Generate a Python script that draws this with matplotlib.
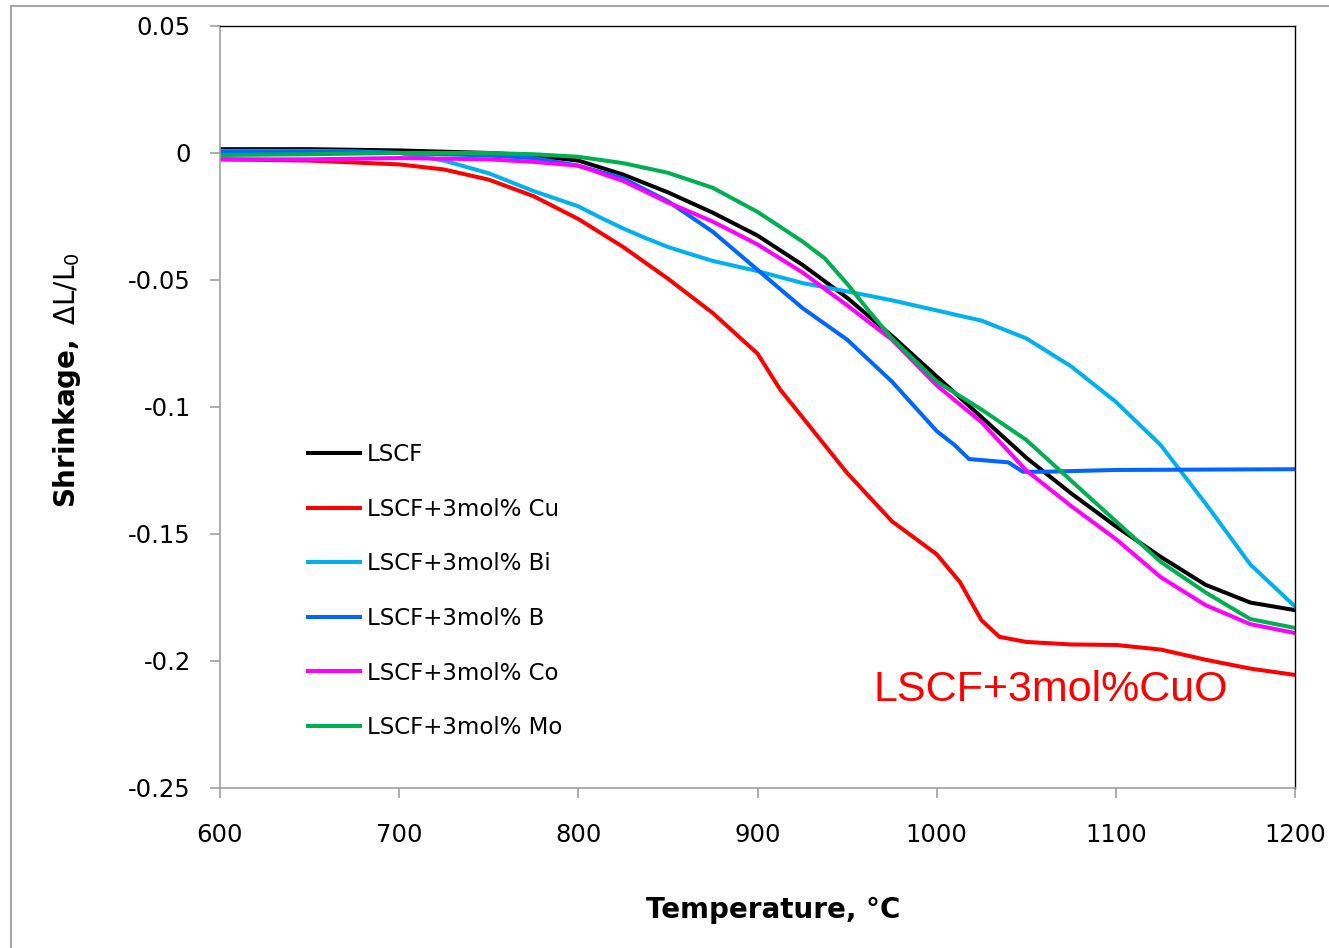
import matplotlib
matplotlib.use('Agg')
import matplotlib.pyplot as plt
from matplotlib.patches import Rectangle
from matplotlib.ticker import FuncFormatter

plt.rcParams['axes.unicode_minus'] = False

# shrinkage curves (temperature in C, dL/L0)
t_lscf = [600, 650, 700, 725, 750, 775, 800, 825, 850, 875, 900, 925, 950, 975,
          1000, 1025, 1050, 1075, 1100, 1125, 1150, 1175, 1200]
lscf = [0.0015, 0.0015, 0.001, 0.0005, 0.0, -0.001, -0.003, -0.0085, -0.0155, -0.0235,
        -0.0325, -0.044, -0.057, -0.072, -0.088, -0.104, -0.120, -0.134, -0.147,
        -0.159, -0.170, -0.177, -0.180]

t_cu = [600, 650, 700, 725, 750, 775, 800, 825, 850, 875, 900, 912.5, 925, 950, 975,
        1000, 1013, 1025, 1035, 1050, 1075, 1100, 1125, 1150, 1175, 1200]
cu = [-0.0025, -0.003, -0.0045, -0.0065, -0.0105, -0.017, -0.026, -0.037, -0.0495,
      -0.063, -0.079, -0.093, -0.104, -0.126, -0.145, -0.158, -0.169, -0.184, -0.1905,
      -0.1925, -0.1935, -0.1937, -0.1955, -0.1995, -0.203, -0.2055]

t_bi = [600, 650, 675, 700, 725, 750, 775, 800, 812.5, 825, 837.5, 850, 862.5, 875,
        900, 925, 950, 975, 1000, 1025, 1050, 1075, 1100, 1125, 1150, 1175, 1200]
bi = [0.0008, 0.0008, 0.0006, 0.0, -0.003, -0.008, -0.015, -0.021, -0.0255, -0.0297,
      -0.0335, -0.037, -0.0398, -0.0425, -0.0465, -0.0512, -0.0545, -0.058, -0.062,
      -0.066, -0.073, -0.084, -0.098, -0.115, -0.138, -0.162, -0.1786]

t_b = [600, 650, 700, 750, 775, 800, 825, 850, 875, 900, 925, 950, 975, 1000, 1010,
       1018, 1040, 1048, 1060, 1100, 1200]
b = [0.0005, 0.0005, 0.0, -0.001, -0.002, -0.005, -0.010, -0.019, -0.031, -0.046,
     -0.061, -0.0735, -0.090, -0.1095, -0.115, -0.1205, -0.1218, -0.1255, -0.1255,
     -0.1248, -0.1245]

t_co = [600, 650, 700, 750, 775, 800, 825, 850, 875, 900, 925, 950, 975, 1000, 1025,
        1050, 1075, 1100, 1125, 1150, 1175, 1200]
co = [-0.0025, -0.0025, -0.002, -0.0025, -0.0035, -0.005, -0.011, -0.0195, -0.027,
      -0.036, -0.047, -0.060, -0.0735, -0.0915, -0.106, -0.125, -0.139, -0.152,
      -0.167, -0.178, -0.1855, -0.189]

t_mo = [600, 650, 700, 750, 775, 800, 825, 850, 875, 900, 925, 937.5, 950, 962.5, 975,
        1000, 1025, 1050, 1075, 1100, 1125, 1150, 1175, 1200]
mo = [-0.0008, -0.0005, 0.0, 0.0, -0.0005, -0.0015, -0.004, -0.0078, -0.0137, -0.0232,
      -0.0348, -0.0415, -0.0515, -0.0625, -0.073, -0.090, -0.101, -0.113, -0.129,
      -0.145, -0.161, -0.173, -0.1835, -0.187]

labels = ['LSCF', 'LSCF+3mol% Cu', 'LSCF+3mol% Bi', 'LSCF+3mol% B',
          'LSCF+3mol% Co', 'LSCF+3mol% Mo']
colors = ['#000000', '#ff0000', '#00b0f0', '#0066ff', '#ff00ff', '#00b050']

x_ticks = [600, 700, 800, 900, 1000, 1100, 1200]
y_ticks = [-0.25, -0.2, -0.15, -0.1, -0.05, 0, 0.05]

fig = plt.figure(figsize=(13.29, 9.48), dpi=100)
ax = fig.add_axes([0.1655, 0.1688, 0.809, 0.8038])

series = [(t_lscf, lscf), (t_cu, cu), (t_bi, bi), (t_b, b), (t_co, co), (t_mo, mo)]
for (t, v), lab, c in zip(series, labels, colors):
    ax.plot(t, v, color=c, lw=2.9, label=lab, solid_joinstyle='round')

ax.set_xlim(600, 1200)
ax.set_ylim(-0.25, 0.05)
ax.set_xticks(x_ticks)
ax.set_yticks(y_ticks)
ax.yaxis.set_major_formatter(FuncFormatter(lambda v, p: f'{round(v, 3):g}'))
ax.tick_params(axis='both', direction='out', length=7, width=1.2, color='#a0a0a0',
               labelsize=17.5)
ax.tick_params(axis='y', pad=14)
ax.tick_params(axis='x', pad=18)
for s in ['left', 'bottom']:
    ax.spines[s].set_color('#a0a0a0')
    ax.spines[s].set_linewidth(1.2)
for s in ['top', 'right']:
    ax.spines[s].set_color('#000000')
    ax.spines[s].set_linewidth(1.0)

ax.set_xlabel('Temperature, °C', fontsize=20, fontweight='bold')
ax.xaxis.set_label_coords(0.515, -0.142)
ax.set_ylabel(r'$\mathbf{Shrinkage,}$ $\Delta$L/L$_0$', fontsize=20)
ax.yaxis.set_label_coords(-0.127, 0.535)

ax.legend(loc='upper left', bbox_to_anchor=(0.082, 0.4527), frameon=False,
          fontsize=16.5, borderpad=0, borderaxespad=0, handlelength=2.27,
          handletextpad=0.3, labelspacing=1.38)

ax.text(964.5, -0.2114, 'LSCF+3mol%CuO', color='#ff0000', fontsize=31,
        family='Liberation Sans', va='center', ha='left')

# grey frame round the whole chart
fig.patches.append(Rectangle((11 / 1329, -0.05), 1.1, 1.05 - 6 / 948, fill=False,
                             edgecolor='#a6a6a6', lw=1.5, transform=fig.transFigure))

fig.savefig('out.png', dpi=100)
